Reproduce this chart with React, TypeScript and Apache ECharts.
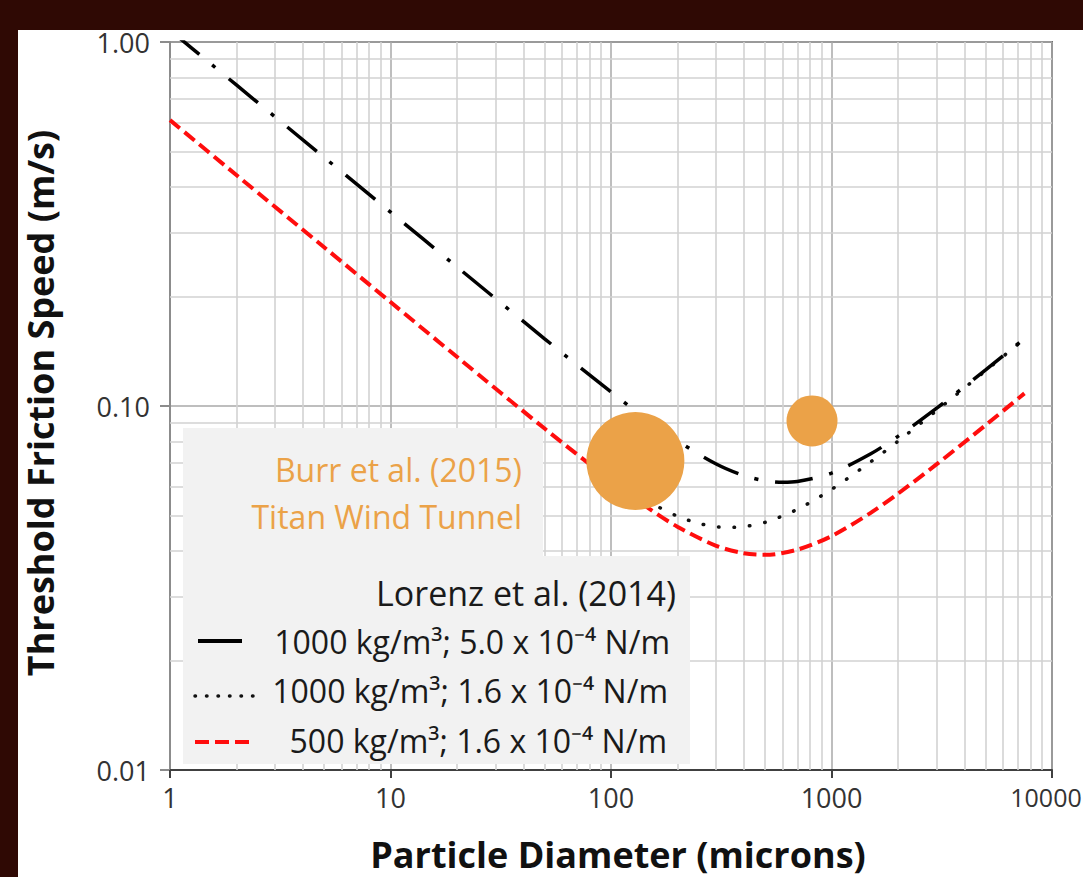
import React, { useEffect, useRef } from "react";
import * as echarts from "echarts";

// ---------- data ----------
const xTickLabels = ["1", "10", "100", "1000", "10000"];
const yTickLabels = ["0.01", "0.10", "1.00"];

// 1000 kg/m3; 5.0e-4 N/m (black dash-dot)
const blackD = [1, 1.5, 2, 5, 10, 20, 50, 100, 150, 200, 300, 400, 500, 600, 700, 1000, 1500, 2000, 3000, 5000, 7700];
const blackU = [1.078, 0.88, 0.762, 0.482, 0.341, 0.2412, 0.153, 0.1093, 0.0906, 0.0802, 0.0693, 0.0644, 0.0623, 0.0617, 0.062, 0.0654, 0.0738, 0.0825, 0.0986, 0.1256, 0.1552];

// 1000 kg/m3; 1.6e-4 N/m (black dotted)
const dotD = [110, 130, 150, 200, 250, 300, 350, 400, 500, 700, 1000, 1500, 2000, 3000, 5000, 7700];
const dotU = [0.061, 0.0571, 0.0543, 0.0498, 0.0476, 0.0466, 0.0464, 0.0466, 0.0479, 0.052, 0.059, 0.0701, 0.08, 0.0972, 0.125, 0.1549];

// 500 kg/m3; 1.6e-4 N/m (red dashed)
const redD = [1, 2, 5, 10, 20, 50, 100, 150, 200, 300, 400, 500, 700, 1000, 1500, 2000, 3000, 5000, 7500];
const redU = [0.61, 0.431, 0.273, 0.193, 0.1365, 0.0867, 0.0623, 0.0521, 0.0466, 0.0413, 0.0394, 0.039, 0.0403, 0.0439, 0.0508, 0.0574, 0.0692, 0.0886, 0.1083];

// Burr et al. (2015) wind tunnel points
const burrD = [129, 816];
const burrU = [0.0706, 0.091];
const burrSize = [98, 51];

const legendLabels = [
  "1000 kg/m³; 5.0 x 10⁻⁴ N/m",
  "1000 kg/m³; 1.6 x 10⁻⁴ N/m",
  "500 kg/m³; 1.6 x 10⁻⁴ N/m",
];

const minorMultipliers = [2, 3, 4, 5, 6, 7, 8, 9];
const xDecades = [1, 10, 100, 1000];
const yDecades = [0.01, 0.1];

// ---------- styling ----------
const FONT = "'Open Sans'";
const ORANGE = "#EBA248";
const W = 1083;
const H = 877;

const zip = (a: number[], b: number[]) => a.map((v, i) => [v, b[i]]);

function buildOption(): any {
  const minorX: any[] = [];
  xDecades.forEach((d) => minorMultipliers.forEach((m) => minorX.push({ xAxis: d * m })));
  const minorY: any[] = [];
  yDecades.forEach((d) => minorMultipliers.forEach((m) => minorY.push({ yAxis: +(d * m).toPrecision(3) })));

  const txt = (text: string, x: number, y: number, size: number, opts: any = {}) => ({
    type: "text",
    z: opts.z ?? 20,
    rotation: opts.rotation ?? 0,
    x,
    y,
    style: {
      text,
      x: 0,
      y: 0,
      fill: opts.fill ?? "#1a1a1a",
      fontSize: size,
      fontFamily: FONT,
      fontWeight: opts.bold ? "bold" : "normal",
      align: opts.align ?? "right",
      textAlign: opts.align ?? "right",
      verticalAlign: "middle",
      textVerticalAlign: "middle",
    },
  });

  return {
    animation: false,
    backgroundColor: "#ffffff",
    grid: {
      left: 170,
      top: 42,
      width: 882,
      height: 728,
      containLabel: false,
      outerBoundsMode: "none",
      show: true,
      borderColor: "#6f6f6f",
      borderWidth: 2,
      backgroundColor: "transparent",
    },
    xAxis: {
      type: "log",
      logBase: 10,
      min: 1,
      max: 10000,
      axisLine: { show: true, lineStyle: { color: "#404040", width: 2 } },
      axisTick: { show: true, length: 8, lineStyle: { color: "#404040", width: 2 } },
      axisLabel: {
        fontSize: 27,
        fontFamily: FONT,
        color: "#333333",
        margin: 14,
        hideOverlap: false,
        formatter: (v: number) => {
          const i = Math.round(Math.log10(v));
          const s = xTickLabels[i] ?? "";
          return i === xTickLabels.length - 1 ? `{last|${s}}` : s;
        },
        rich: {
          last: { fontSize: 25, fontFamily: FONT, color: "#333333", padding: [0, 12, 0, 0] },
        },
      },
      splitLine: { show: true, lineStyle: { color: "#a8a8a8", width: 1.5 } },
    },
    yAxis: {
      type: "log",
      logBase: 10,
      min: 0.01,
      max: 1,
      axisLine: { show: true, lineStyle: { color: "#8c8c8c", width: 2 } },
      axisTick: { show: true, length: 10, lineStyle: { color: "#8c8c8c", width: 2 } },
      axisLabel: {
        fontSize: 27,
        fontFamily: FONT,
        color: "#333333",
        margin: 20,
        formatter: (v: number) => yTickLabels[Math.round(Math.log10(v)) + 2] ?? "",
      },
      splitLine: { show: true, lineStyle: { color: "#a8a8a8", width: 1.5 } },
    },
    series: [
      {
        name: "minor grid",
        type: "scatter",
        data: [[1, 0.01]],
        symbolSize: 0,
        silent: true,
        z: 1,
        markLine: {
          z: 1,
          silent: true,
          symbol: ["none", "none"],
          label: { show: false },
          lineStyle: { color: "#d2d2d2", width: 1.6, type: "solid" },
          emphasis: { disabled: true },
          data: [...minorX, ...minorY],
        },
      },
      {
        name: legendLabels[2],
        type: "line",
        data: zip(redD, redU),
        smooth: 0.3,
        showSymbol: false,
        z: 3,
        lineStyle: { color: "#ff0d0d", width: 4, type: [13, 6] },
      },
      {
        name: legendLabels[1],
        type: "line",
        data: zip(dotD, dotU),
        smooth: 0.3,
        showSymbol: false,
        z: 3,
        lineStyle: { color: "#111111", width: 3.5, type: [0.5, 15], cap: "round" },
      },
      {
        name: legendLabels[0],
        type: "line",
        data: zip(blackD, blackU),
        smooth: 0.3,
        showSymbol: false,
        z: 3,
        lineStyle: { color: "#000000", width: 3.5, type: [38, 17, 4, 17] },
      },
      {
        name: "Burr et al. (2015)",
        type: "scatter",
        data: zip(burrD, burrU).map((p, i) => ({ value: p, symbolSize: burrSize[i] })),
        z: 4,
        itemStyle: { color: ORANGE, opacity: 1 },
      },
    ],
    graphic: [
      // dark frame
      { type: "rect", z: 50, shape: { x: 0, y: 0, width: W, height: 30 }, style: { fill: "#2f0904" } },
      { type: "rect", z: 50, shape: { x: 0, y: 0, width: 18, height: H }, style: { fill: "#2f0904" } },
      // annotation / legend boxes
      { type: "rect", z: 2, shape: { x: 183, y: 428, width: 360, height: 130 }, style: { fill: "#f2f2f2" } },
      { type: "rect", z: 2, shape: { x: 183, y: 556, width: 507, height: 208 }, style: { fill: "#f2f2f2" } },
      txt("Burr et al. (2015)", 522, 469, 32, { fill: ORANGE }),
      txt("Titan Wind Tunnel", 522, 516, 32, { fill: ORANGE }),
      txt("Lorenz et al. (2014)", 676, 593, 34),
      txt(legendLabels[0], 670, 641, 32),
      txt(legendLabels[1], 668, 690, 32),
      txt(legendLabels[2], 667, 740, 32),
      {
        type: "line",
        z: 20,
        shape: { x1: 198, y1: 641, x2: 242, y2: 641 },
        style: { stroke: "#000", lineWidth: 4 },
      },
      {
        type: "line",
        z: 20,
        shape: { x1: 195, y1: 696, x2: 254, y2: 696 },
        style: { stroke: "#111", lineWidth: 3.5, lineDash: [0.5, 11], lineCap: "round" },
      },
      {
        type: "line",
        z: 20,
        shape: { x1: 195, y1: 742, x2: 255, y2: 742 },
        style: { stroke: "#ff0d0d", lineWidth: 4, lineDash: [14, 6] },
      },
      // axis titles
      txt("Particle Diameter (microns)", 618, 854, 36, { bold: true, align: "center", fill: "#111" }),
      txt("Threshold Friction Speed (m/s)", 40, 403, 36, {
        bold: true,
        align: "center",
        fill: "#111",
        rotation: Math.PI / 2,
      }),
    ],
  };
}

export default function App() {
  const ref = useRef<HTMLDivElement>(null);
  useEffect(() => {
    const chart = echarts.init(ref.current!, null, { renderer: "svg" });
    chart.setOption(buildOption());
    return () => chart.dispose();
  }, []);
  return (
    <div
      ref={ref}
      style={{ position: "fixed", left: 0, top: 0, width: W, height: H, background: "#fff" }}
    />
  );
}
